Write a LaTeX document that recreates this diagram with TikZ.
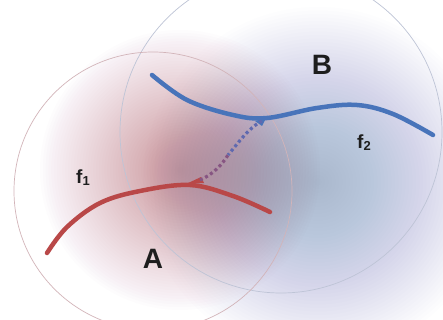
\documentclass[tikz,border=0pt]{standalone}
\usepackage{fontspec}
\setmainfont{Liberation Sans}
\definecolor{redglow}{RGB}{165,70,85}
\definecolor{blueglow}{RGB}{100,128,205}
\definecolor{redcurve}{RGB}{185,72,72}
\definecolor{bluecurve}{RGB}{72,116,186}
\definecolor{ringA}{RGB}{210,180,185}
\definecolor{ringB}{RGB}{190,196,214}
\definecolor{labeltext}{RGB}{30,30,30}
\tikzset{
  curveline/.style={line width=4.5pt, line cap=round},
  ring/.style={line width=0.7pt},
  biglabel/.style={font=\fontsize{28}{28}\selectfont\bfseries, text=labeltext, inner sep=0pt},
  smalllabel/.style={font=\fontsize{19}{19}\selectfont\bfseries, text=labeltext, inner sep=0pt},
  linkdash/.style={line width=3.2pt, dash pattern=on 3pt off 2.8pt}
}
\begin{document}
\begin{tikzpicture}[x=1pt,y=-1pt]
\useasboundingbox (0,0) rectangle (443,320);
\clip (0,0) rectangle (443,320);
\fill[white] (0,0) rectangle (443,320);
% glows
\foreach \i in {1,...,50}{
  \fill[blueglow, opacity=0.011] (318,182) circle ({175*\i/50});
}
\foreach \i in {1,...,50}{
  \fill[redglow, opacity=0.012] (180,170) circle ({140*\i/50});
}
% rings
\draw[ring, ringB] (281,132) circle (161);
\draw[ring, ringA] (153,191) circle (139);
% curves
\draw[curveline, redcurve] plot[smooth, tension=0.6] coordinates {(47,253) (67,227) (100,203) (140,191) (190,185) (233,196) (270,212)};
\draw[curveline, bluecurve] plot[smooth, tension=0.6] coordinates {(152,75) (187,100) (233,115) (267,118) (317,108) (357,105) (393,114) (433,135)};
% junctions
\coordinate (r1) at (200,180);
\coordinate (b1) at (262,121);
\coordinate (rm) at (228,155);
\fill[redcurve] (186,184) -- (201,177) -- (204,183) -- cycle;
\fill[bluecurve] (255,121) -- (266,118) -- (262,126) -- cycle;
\draw[linkdash, color={rgb,255:red,135;green,85;blue,130}] (r1) .. controls (212,175) and (222,165) .. (rm);
\draw[linkdash, color={rgb,255:red,95;green,105;blue,175}, dash phase=1pt] (rm) .. controls (236,146) and (248,128) .. (b1);
% labels
\node[biglabel] (B) at (322,65) {B};
\node[biglabel] (A) at (153,259) {A};
\node[smalllabel] (f1) at (83,178) {f{\fontsize{13}{13}\selectfont\raisebox{-2pt}{1}}};
\node[smalllabel] (f2) at (364,143) {f{\fontsize{13}{13}\selectfont\raisebox{-2pt}{2}}};
\end{tikzpicture}
\end{document}
